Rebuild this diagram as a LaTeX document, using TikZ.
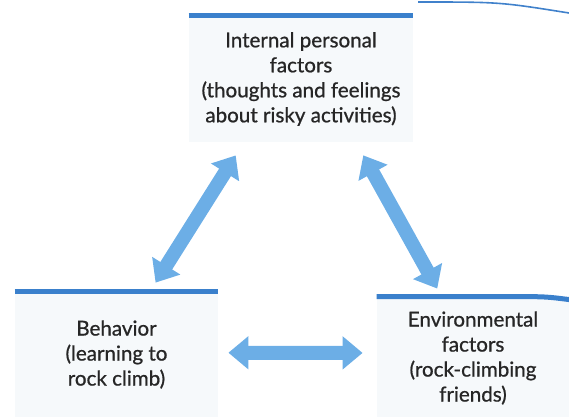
\documentclass[tikz,border=0pt]{standalone}
\usepackage{fontspec}
\setmainfont{Lato}
\newfontfamily\factorfont{Lato}[UprightFeatures={FakeBold=0.8}]
\usepackage{xcolor}
\usepackage{tikz}
\usetikzlibrary{arrows.meta, positioning, calc}

\definecolor{barblue}{HTML}{3A80CC}
\definecolor{arrowblue}{HTML}{6CAEE6}
\definecolor{boxfill}{HTML}{F6F9FB}
\definecolor{inkgray}{HTML}{262626}

\begin{document}
\begin{tikzpicture}[x=0.5pt, y=-0.5pt,
    factor/.style={fill=boxfill, inner sep=0pt, align=center, text=inkgray,
        font=\factorfont\fontsize{10.3}{12.5}\selectfont},
    bar/.style={barblue, line width=2.5pt},
    link/.style={arrowblue, line width=7pt,
        {Triangle[length=10pt, width=16pt]}-{Triangle[length=10pt, width=16pt]}}]
            \useasboundingbox (0,0) rectangle (569,417);

            \node[factor, minimum width=112pt, minimum height=63pt] (internal) at (301,79)
                {Internal personal\\factors\\(thoughts and feelings\\about risky activities)};
            \node[factor, minimum width=101.5pt, minimum height=62.5pt] (behavior) at (116.5,354.5)
                {Behavior\\(learning to\\rock climb)};
            \node[factor, minimum width=96pt, minimum height=61pt] (environ) at (473,358)
                {Environmental\\factors\\(rock-climbing\\friends)};

            \draw[bar] (internal.north west) -- (internal.north east);
            \draw[bar] (behavior.north west) -- (behavior.north east);
            \draw[bar] (environ.north west) -- ([xshift=-30pt]environ.north east)
                .. controls ([xshift=-12pt]environ.north east) .. ([yshift=-1.5pt]environ.north east);

            \draw[link, shorten <=7.7pt, shorten >=5.3pt] (internal.228) -- (behavior.62.5);
            \draw[link, shorten <=7.4pt, shorten >=4.6pt] (internal.311.6) -- (environ.117.7);
            \draw[link, shorten <=5pt, shorten >=7pt] (behavior.1.4) -- (environ.177.6);

            \draw[cyan!50!blue!80, line width=0.8pt] (418,2) .. controls (500,2) .. (569,13);
        \end{tikzpicture}
\end{document}
